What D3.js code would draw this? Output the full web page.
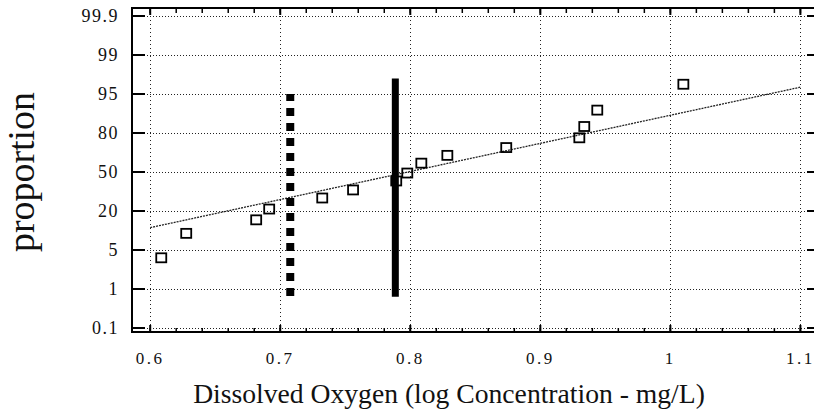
<!DOCTYPE html>
<html><head><meta charset="utf-8">
<script src="https://cdn.jsdelivr.net/npm/d3@7"></script>
<style>
body{margin:0;background:#fff;}
svg{display:block;}
svg text{font-family:"Times New Roman","Liberation Serif",Times,serif;}
</style></head>
<body>
<svg id="c" width="814" height="418"></svg>
<script>
// ---- data ----
const yTickLabels = [0.1, 1, 5, 20, 50, 80, 95, 99, 99.9];
const xTickValues = [0.6, 0.7, 0.8, 0.9, 1, 1.1];
const xTickLabels = ["0.6", "0.7", "0.8", "0.9", "1", "1.1"];
const obsX = [0.6085, 0.6277, 0.6815, 0.6915, 0.7323, 0.756, 0.7892, 0.7977, 0.8085, 0.8285, 0.8738, 0.930, 0.9338, 0.9438, 1.010];
const obsP = [4.2, 11.4, 16.6, 21.5, 30, 36.2, 43.1, 49.2, 56.8, 62.8, 68.8, 76.3, 82.5, 88.8, 96.0];
const fitX = [0.6, 1.1];
const fitP = [13.6, 95.7];
const dashedBarX = [0.7077];
const dashedBarP = [0.84, 95];
const solidBarX = [0.7885];
const solidBarP = [0.82, 96.6];
const xTitle = "Dissolved Oxygen (log Concentration - mg/L)";
const yTitle = "proportion";

const svg = d3.select("#c");
const L = 132, R = 816, T = 8, B = 332;
const x = d3.scaleLinear().domain([0.586, 1.112]).range([L, R]);
const yStep = 39, yBottom = 328;
const y = d3.scaleLinear().domain(yTickLabels).range(yTickLabels.map((d,i)=>yBottom - i*yStep));

// grid
const g = svg.append("g");
g.selectAll(".hg").data(yTickLabels).join("line")
  .attr("x1", L).attr("x2", R).attr("y1", d=>y(d)+0.5).attr("y2", d=>y(d)+0.5)
  .attr("stroke", "#222").attr("stroke-width", 1).attr("stroke-dasharray", "1,2");
g.selectAll(".vg").data(xTickValues).join("line")
  .attr("y1", T).attr("y2", B).attr("x1", d=>Math.round(x(d))+0.5).attr("x2", d=>Math.round(x(d))+0.5)
  .attr("stroke", "#222").attr("stroke-width", 1).attr("stroke-dasharray", "1,3");

// minor ticks top/bottom
const minor = d3.range(0.6, 1.1001, 0.02);
svg.append("g").selectAll("line").data(minor).join("line")
  .attr("x1", d=>x(d)).attr("x2", d=>x(d)).attr("y1", T).attr("y2", T+5)
  .attr("stroke", "#000").attr("stroke-width", 1.5);
svg.append("g").selectAll("line").data(minor).join("line")
  .attr("x1", d=>x(d)).attr("x2", d=>x(d)).attr("y1", B).attr("y2", B-4)
  .attr("stroke", "#000").attr("stroke-width", 1.5);
svg.append("g").selectAll("line").data(xTickValues).join("line")
  .attr("x1", d=>x(d)).attr("x2", d=>x(d)).attr("y1", B).attr("y2", B-7)
  .attr("stroke", "#000").attr("stroke-width", 2);
svg.append("g").selectAll("line").data(xTickValues).join("line")
  .attr("x1", d=>x(d)).attr("x2", d=>x(d)).attr("y1", T).attr("y2", T+7)
  .attr("stroke", "#000").attr("stroke-width", 2);
// left/right ticks
svg.append("g").selectAll("line").data(yTickLabels).join("line")
  .attr("x1", L).attr("x2", L+13).attr("y1", d=>y(d)).attr("y2", d=>y(d))
  .attr("stroke", "#000").attr("stroke-width", 2);
svg.append("g").selectAll("line").data(yTickLabels).join("line")
  .attr("x1", 807).attr("x2", R).attr("y1", d=>y(d)).attr("y2", d=>y(d))
  .attr("stroke", "#000").attr("stroke-width", 2);

// frame
svg.append("rect").attr("x", L).attr("y", T).attr("width", R-L).attr("height", B-T)
  .attr("fill", "none").attr("stroke", "#000").attr("stroke-width", 2);

// fit line
svg.append("path")
  .datum(fitX.map((d,i)=>[d, fitP[i]]))
  .attr("d", d3.line().x(d=>x(d[0])).y(d=>y(d[1])))
  .attr("fill", "none").attr("stroke", "#222").attr("stroke-width", 1.3).attr("stroke-dasharray", "2,1");

// bars
svg.append("line")
  .attr("x1", x(dashedBarX[0])).attr("x2", x(dashedBarX[0]))
  .attr("y1", y(dashedBarP[0])).attr("y2", y(dashedBarP[1]))
  .attr("stroke", "#000").attr("stroke-width", 8).attr("stroke-dasharray", "8,7");
svg.append("line")
  .attr("x1", x(solidBarX[0])).attr("x2", x(solidBarX[0]))
  .attr("y1", y(solidBarP[0])).attr("y2", y(solidBarP[1]))
  .attr("stroke", "#000").attr("stroke-width", 7);

// points
svg.append("g").selectAll("rect").data(obsX.map((d,i)=>[d, obsP[i]])).join("rect")
  .attr("x", d=>x(d[0])-5).attr("y", d=>y(d[1])-4.5)
  .attr("width", 10).attr("height", 9)
  .attr("fill", "none").attr("stroke", "#000").attr("stroke-width", 1.8);

// y tick labels
svg.append("g").selectAll("text").data(yTickLabels).join("text")
  .attr("x", 119).attr("y", d=>y(d)).attr("dy", "0.35em")
  .attr("text-anchor", "end").attr("font-size", 18)
  .attr("fill", "#111").attr("letter-spacing", 1.5)
  .text(d=>String(d));
// x tick labels
svg.append("g").selectAll("text").data(xTickValues).join("text")
  .attr("x", d=>x(d)).attr("y", 364)
  .attr("text-anchor", "middle").attr("font-size", 17)
  .attr("fill", "#111").attr("letter-spacing", 2.5)
  .text((d,i)=>xTickLabels[i]);

// titles
const xt = svg.append("text").attr("x", 449).attr("y", 403).attr("text-anchor", "middle")
  .attr("fill", "#111").attr("font-size", 26).text(xTitle);
const xl = xt.node().getComputedTextLength();
xt.attr("font-size", 26*512/xl);
const yt = svg.append("text").attr("transform", "translate(34,172) rotate(-90)")
  .attr("text-anchor", "middle").attr("fill", "#111")
  .attr("font-size", 36).text(yTitle);
const yl = yt.node().getComputedTextLength();
yt.attr("font-size", 36*160/yl);
</script>
</body></html>
